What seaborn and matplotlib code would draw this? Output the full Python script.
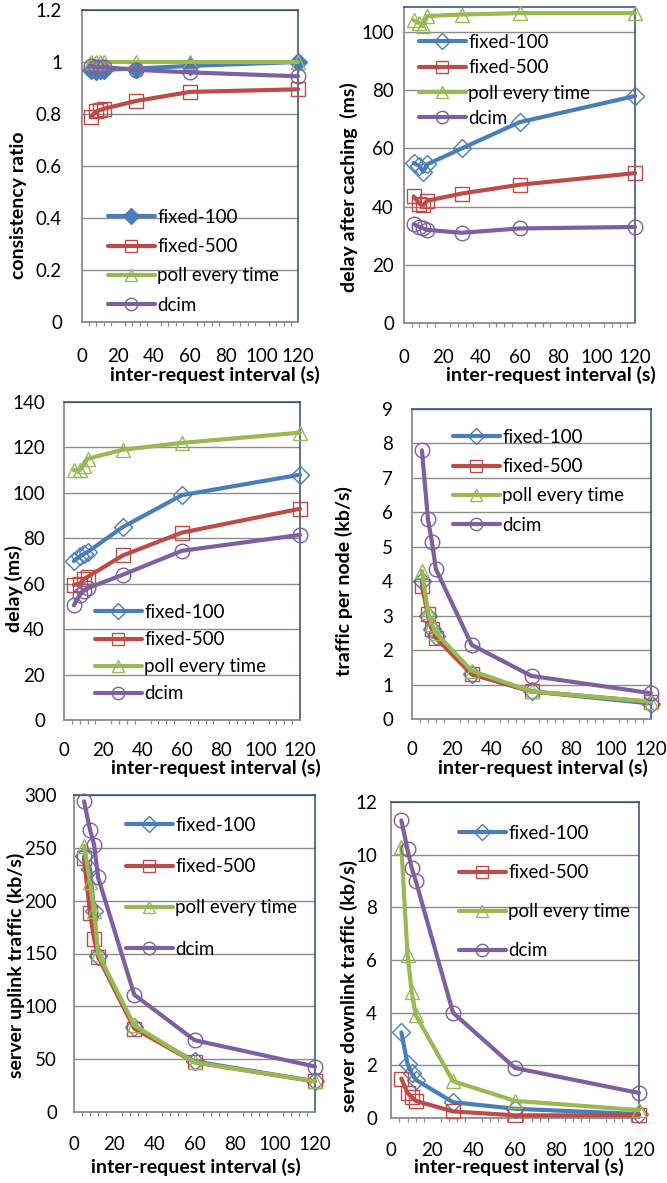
import matplotlib
matplotlib.use("Agg")
import matplotlib.pyplot as plt
from matplotlib.ticker import MultipleLocator, FuncFormatter
import seaborn as sns
import pandas as pd

sns.set_theme(style="white")
plt.rcParams['font.family'] = ['Lato', 'DejaVu Sans']

# ---------------- data ----------------
intervals = [5, 8, 10, 12, 30, 60, 120]
series_names = ["fixed-100", "fixed-500", "poll every time", "dcim"]

consistency = {
    "fixed-100": [0.97, 0.965, 0.97, 0.97, 0.975, 0.985, 1.0],
    "fixed-500": [0.79, 0.81, 0.815, 0.82, 0.85, 0.885, 0.895],
    "poll every time": [1.0, 1.0, 1.0, 1.0, 1.0, 1.0, 1.0],
    "dcim": [0.985, 0.98, 0.98, 0.98, 0.97, 0.96, 0.945],
}
delay_cached = {
    "fixed-100": [55, 54, 52, 54.5, 60, 69, 78],
    "fixed-500": [43.5, 41, 40.5, 42, 44.5, 47.5, 51.5],
    "poll every time": [104, 103, 102, 105.5, 106, 106.5, 106.5],
    "dcim": [34, 33, 32.5, 32, 31, 32.5, 33],
}
delay = {
    "fixed-100": [70, 72, 73, 74, 85, 99, 108],
    "fixed-500": [59.5, 60, 62, 63, 72.5, 82.5, 93],
    "poll every time": [110, 110, 112, 115, 119, 122, 126.5],
    "dcim": [50.5, 55, 57, 58, 64, 74.5, 81.5],
}
traffic_node = {
    "fixed-100": [4.0, 3.0, 2.6, 2.4, 1.3, 0.8, 0.45],
    "fixed-500": [3.85, 3.05, 2.6, 2.35, 1.3, 0.8, 0.5],
    "poll every time": [4.3, 3.1, 2.75, 2.5, 1.4, 0.8, 0.5],
    "dcim": [7.8, 5.8, 5.15, 4.35, 2.15, 1.25, 0.75],
}
uplink = {
    "fixed-100": [242, 230, 190, 148, 80, 48, 29],
    "fixed-500": [240, 188, 164, 147, 79, 47, 29],
    "poll every time": [252, 218, 190, 150, 82, 47, 29],
    "dcim": [294, 267, 253, 222, 111, 68, 43],
}
downlink = {
    "fixed-100": [3.25, 2.05, 1.7, 1.45, 0.6, 0.35, 0.15],
    "fixed-500": [1.5, 0.95, 0.8, 0.65, 0.25, 0.1, 0.1],
    "poll every time": [10.3, 6.2, 4.8, 3.9, 1.4, 0.65, 0.3],
    "dcim": [11.3, 10.2, 9.5, 9.0, 4.0, 1.9, 0.95],
}

colors = {"fixed-100": "#4A7EBB", "fixed-500": "#BE4B48",
          "poll every time": "#98B954", "dcim": "#7D60A0"}
markers = {"fixed-100": "D", "fixed-500": "s", "poll every time": "^", "dcim": "o"}
msizes = {"fixed-100": 9, "fixed-500": 10.5, "poll every time": 10.5, "dcim": 10.5}

W, H = 667, 1183
fig = plt.figure(figsize=(W / 100, H / 100), dpi=100)

GRID = "#8C8C8C"
NAVY = "#2A4A78"
TICK_FS = 13.5
LAB_FS = 14
LEG_FS = 13.5

# xl: (center x, top y) of x label in px; yl: (right edge x, center y) of y label
panels = [
    dict(data=consistency, ylabel="consistency ratio", ylim=(0, 1.2), step=0.2,
         rect=(82, 298, 10, 322), ypad=20, xpad=14, xl=(215, 366), yl=(27, 205),
         leg=(108, 209, 0.65), filled_first=True),
    dict(data=delay_cached, ylabel="delay after caching  (ms)", ylim=(0, 108.6), step=20,
         rect=(404, 635, 7, 323), ypad=10, xpad=14, xl=(551, 366), yl=(358, 187),
         leg=(419, 34, 0.44)),
    dict(data=delay, ylabel="delay (ms)", ylim=(0, 140), step=20,
         rect=(64, 300, 402, 720), ypad=19, xpad=11, xl=(216, 759), yl=(23, 588),
         leg=(95, 604, 0.54)),
    dict(data=traffic_node, ylabel="traffic per node (kb/s)", ylim=(0, 9), step=1,
         rect=(412, 651, 409, 719), ypad=19, xpad=11, xl=(543, 759), yl=(353, 581),
         leg=(453, 429, 0.65)),
    dict(data=uplink, ylabel="server uplink traffic (kb/s)", ylim=(0, 300), step=50,
         rect=(74, 315, 795, 1112), ypad=17, xpad=12, xl=(196, 1158), yl=(25, 965),
         leg=(126, 817, 1.29)),
    dict(data=downlink, ylabel="server downlink traffic (kb/s)", ylim=(0, 12), step=2,
         rect=(391, 639, 802, 1118), ypad=14, xpad=12, xl=(519, 1158), yl=(358, 986),
         leg=(459, 825, 1.18)),
]

fmt = FuncFormatter(lambda v, p: f"{v:g}")

for p in panels:
    l, r, t, b = p["rect"]
    ax = fig.add_axes([l / W, 1 - b / H, (r - l) / W, (b - t) / H])
    for i, name in enumerate(series_names):
        c = colors[name]
        mfc = c if (p.get("filled_first") and i == 0) else "none"
        df = pd.DataFrame({"x": intervals, "y": p["data"][name]})
        sns.lineplot(data=df, x="x", y="y", ax=ax, color=c, linewidth=3.0,
                     marker=markers[name], markersize=msizes[name],
                     markerfacecolor=mfc, markeredgecolor=c, markeredgewidth=1.0,
                     label=name, clip_on=False, zorder=3 + i)
    ax.set_xlim(0, 120)
    ax.set_ylim(*p["ylim"])
    ax.xaxis.set_major_locator(MultipleLocator(20))
    ax.xaxis.set_minor_locator(MultipleLocator(4))
    ax.yaxis.set_major_locator(MultipleLocator(p["step"]))
    ax.yaxis.set_major_formatter(fmt)
    ax.grid(axis="y", color=GRID, linewidth=1.0)
    ax.grid(axis="x", visible=False)
    ax.set_axisbelow(True)
    for s in ("left", "bottom"):
        ax.spines[s].set_color(GRID)
        ax.spines[s].set_linewidth(1.3)
    for s in ("top", "right"):
        ax.spines[s].set_color(NAVY)
        ax.spines[s].set_linewidth(1.1)
    ax.tick_params(axis="x", which="major", direction="out", length=5, width=1.1,
                   color=GRID, pad=p["xpad"], labelsize=TICK_FS, labelcolor="black")
    ax.tick_params(axis="x", which="minor", direction="out", length=3, width=0.9,
                   color=GRID, bottom=True)
    ax.tick_params(axis="y", which="major", length=0, pad=p["ypad"] / 1.39,
                   labelsize=TICK_FS, labelcolor="black")
    ax.set_xlabel("inter-request interval (s)", fontsize=LAB_FS, fontweight="bold",
                  color="black")
    ax.xaxis.set_label_coords(p["xl"][0] / W, 1 - p["xl"][1] / H,
                              transform=fig.transFigure)
    ax.set_ylabel(p["ylabel"], fontsize=LAB_FS, fontweight="bold", color="black")
    ax.yaxis.set_label_coords(p["yl"][0] / W, 1 - p["yl"][1] / H,
                              transform=fig.transFigure)
    lx, ly, sp = p["leg"]
    leg = ax.legend(loc="upper left", bbox_to_anchor=(lx / W, 1 - ly / H),
                    bbox_transform=fig.transFigure, frameon=False, fontsize=LEG_FS,
                    borderpad=0, borderaxespad=0, handlelength=2.5,
                    handletextpad=0.12, labelspacing=sp, markerscale=0.85)
    for txt in leg.get_texts():
        txt.set_color("black")

fig.savefig("out.png", dpi=100)
